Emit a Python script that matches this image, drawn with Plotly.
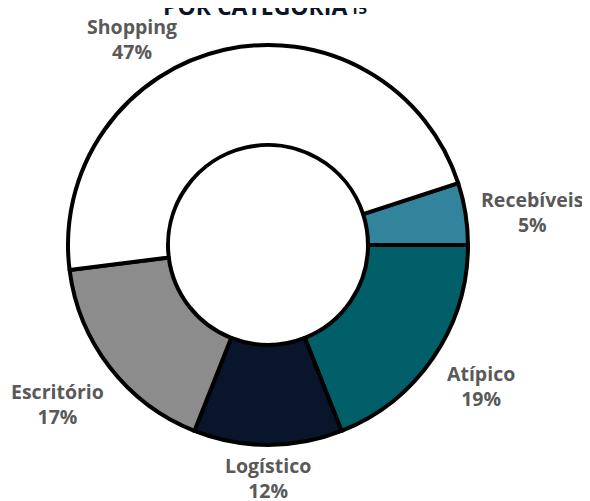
import plotly.graph_objects as go

categories = ["Recebíveis", "Atípico", "Logístico", "Escritório", "Shopping"]
shares = [5, 19, 12, 17, 47]
colors = ["#31849B", "#005F68", "#08152A", "#8C8C8C", "#FFFFFF"]
title_text = "POR CATEGORIA"
title_note = "15"

# label anchor positions (paper coords, layout only)
label_pos = {
    "Recebíveis": (1.16, 0.5825),
    "Atípico": (1.0325, 0.1475),
    "Logístico": (0.5, -0.0825),
    "Escritório": (-0.0275, 0.1025),
    "Shopping": (0.16, 1.014),
}

fig = go.Figure(go.Pie(
    labels=categories,
    values=shares,
    marker=dict(colors=colors, line=dict(color="#000000", width=4)),
    hole=0.5,
    sort=False,
    direction="clockwise",
    rotation=72,
    textinfo="none",
    hoverinfo="label+percent",
    showlegend=False,
))

annotations = []
for c, v in zip(categories, shares):
    x, y = label_pos[c]
    annotations.append(dict(
        x=x, y=y, xref="paper", yref="paper", showarrow=False,
        text=f"<b>{c}<br>{v}%</b>",
        font=dict(family="Open Sans", size=19.5, color="#595959"),
        xanchor="center", yanchor="middle", align="center",
    ))
annotations.append(dict(
    x=0.4675, y=1, xref="paper", yref="paper", showarrow=False,
    text=f"<b>{title_text}</b>", yshift=21,
    font=dict(family="Open Sans", size=23, color="#0A1628"),
    xanchor="center", yanchor="bottom",
))
annotations.append(dict(
    x=0.70, y=1, xref="paper", yref="paper", showarrow=False,
    text=f"<b>{title_note}</b>", yshift=25,
    font=dict(family="Open Sans", size=15, color="#0A1628"),
    xanchor="left", yanchor="bottom",
))

fig.update_layout(
    width=582, height=493,
    margin=dict(l=60, r=122, t=37, b=56),
    paper_bgcolor="white", plot_bgcolor="white",
    annotations=annotations,
)
fig.write_html("out.html")
